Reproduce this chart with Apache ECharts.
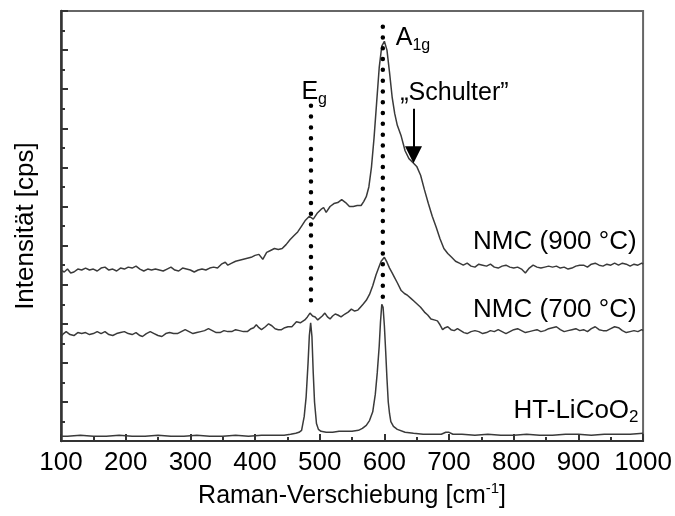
<!DOCTYPE html>
<html>
<head>
<meta charset="utf-8">
<script src="https://cdn.jsdelivr.net/npm/echarts@6/dist/echarts.min.js"></script>
<style>
  html, body { margin: 0; padding: 0; background: #fff; }
  #chart { width: 675px; height: 516px; }
</style>
</head>
<body>
<div id="chart"></div>
<script>
// Raman spectra, intensity in arbitrary counts (offset stacked)
const xTicks = [100, 200, 300, 400, 500, 600, 700, 800, 900, 1000];

const nmc900 = [
  [100,175],[105,173],[110,176],[115,172],[120,173],[126,176],[132,175],[138,177],[144,175],[150,176],
  [156,174],[162,177],[168,178],[174,175],[180,176],[186,174],[192,177],[198,176],[204,178],[210,177],
  [216,179],[222,176],[228,174],[234,176],[240,175],[246,176],[252,175],[258,174],[264,176],[270,178],
  [276,175],[282,174],[288,177],[294,176],[300,175],[306,173],[312,175],[318,176],[324,175],[330,177],
  [336,178],[342,177],[348,181],[354,183],[358,180],[364,182],[370,184],[376,185],[382,186],[388,187],
  [394,188],[400,190],[406,191],[412,186],[418,193],[424,195],[430,197],[436,196],[442,197],[448,201],
  [454,206],[460,210],[466,214],[472,220],[478,226],[484,230],[490,227],[496,233],[502,237],[506,239],
  [510,234],[516,240],[522,243],[528,244],[534,247],[540,244],[546,240],[552,240],[558,241],[564,241],
  [568,245],[572,250],[576,260],[580,280],[584,310],[588,346],[592,382],[596,404],[600,409],[604,400],
  [608,377],[612,352],[616,335],[620,323],[626,312],[632,297],[638,289],[644,285],[650,281],[656,272],
  [662,257],[668,243],[674,230],[680,219],[686,207],[692,197],[698,192],[704,188],[710,184],[716,182],
  [722,180],[728,182],[734,179],[740,178],[746,181],[752,180],[758,179],[764,181],[770,178],[776,177],
  [782,179],[788,180],[794,178],[800,177],[806,178],[812,176],[818,172],[824,177],[830,180],[836,178],
  [842,177],[848,178],[854,179],[860,178],[866,179],[872,177],[878,178],[884,176],[890,177],[896,179],
  [902,180],[908,180],[914,178],[920,181],[926,182],[932,180],[938,179],[944,181],[950,180],[956,182],
  [962,180],[968,182],[974,181],[980,179],[986,181],[992,180],[998,182],[1000,181]
];

const nmc700 = [
  [100,107],[104,110],[108,112],[114,109],[120,108],[126,111],[132,110],[138,111],[144,109],[150,110],
  [156,112],[162,110],[168,112],[174,109],[180,108],[186,110],[192,111],[198,112],[204,110],[210,109],
  [216,111],[222,108],[226,107],[232,110],[238,112],[244,110],[250,108],[256,107],[262,110],[268,111],
  [274,110],[280,110],[286,112],[292,114],[298,112],[304,110],[310,111],[316,112],[322,113],[328,115],
  [334,113],[340,111],[346,111],[352,113],[358,112],[364,112],[370,114],[376,113],[382,112],[388,112],
  [394,115],[398,116],[402,119],[406,116],[410,114],[416,117],[421,120],[426,118],[431,115],[436,114],
  [441,114],[446,116],[451,117],[457,117],[464,122],[470,121],[477,124],[481,127],[485,131],[489,128],
  [493,127],[497,124],[500,125],[504,128],[508,131],[512,127],[516,125],[520,128],[524,130],[528,129],
  [533,127],[539,130],[544,132],[549,135],[554,133],[559,134],[563,137],[567,140],[572,144],[577,150],
  [582,159],[587,170],[591,177],[595,184],[600,188],[604,183],[608,177],[612,172],[616,167],[620,162],
  [626,154],[631,151],[636,149],[641,146],[646,143],[651,140],[656,137],[662,132],[667,129],[672,125],
  [677,124],[682,123],[686,119],[690,114],[694,116],[698,117],[703,114],[708,113],[713,115],[718,113],
  [723,111],[728,110],[734,112],[740,113],[746,112],[752,110],[758,111],[764,113],[770,112],[776,114],
  [782,112],[788,110],[794,112],[800,114],[806,115],[812,113],[818,111],[824,112],[830,113],[836,114],
  [842,112],[848,113],[854,115],[860,116],[866,117],[872,114],[878,112],[884,113],[890,114],[896,115],
  [902,113],[908,114],[914,112],[920,115],[926,117],[932,114],[938,113],[944,113],[950,115],[956,117],
  [962,116],[968,113],[974,111],[980,112],[986,113],[992,112],[998,114],[1000,113]
];

const htLiCoO2 = [
  [100,5],[110,5],[130,6],[150,5],[170,5],[190,6],[210,5],[230,5],[250,6],[270,5],
  [290,5],[310,6],[330,5],[350,5],[370,6],[390,5],[410,6],[430,6],[445,6],[455,7],
  [463,8],[468,9],[472,11],[476,25],[479,45],[482,80],[484,108],[486,121],[488,107],[490,70],
  [492,40],[495,18],[498,12],[502,10],[510,9],[520,9],[530,10],[540,10],[550,10],[560,11],
  [566,13],[572,16],[577,21],[582,30],[586,48],[589,70],[592,97],[594,122],[596,140],[598,137],
  [600,118],[602,92],[604,64],[606,40],[608,28],[610,20],[614,15],[620,12],[632,9],[645,8],
  [660,7],[675,7],[688,7],[695,9],[700,9],[706,7],[720,7],[740,6],[760,7],[780,6],
  [800,6],[820,7],[840,6],[860,6],[880,7],[900,7],[920,6],[940,7],[960,7],[980,7],[1000,8]
];

// dotted guide lines at the Eg and A1g modes (top first so the dots start there)
const egLine = [[486.5, 343], [486.5, 134]];
const a1gLine = [[597.6, 424], [597.6, 147]];
// arrow marking the shoulder
const shoulderArrow = [[645, 340], [645, 293]];

const FONT = 'Liberation Sans, Arial, sans-serif';
const curveColor = '#3a3a3a';

const chart = echarts.init(document.getElementById('chart'));

const subRich = {
  m: { fontSize: 25, lineHeight: 30, color: '#000', fontFamily: FONT },
  s: { fontSize: 16, lineHeight: 18, verticalAlign: 'bottom', color: '#000', fontFamily: FONT }
};
const bigRich = {
  m: { fontSize: 26, lineHeight: 30, color: '#000', fontFamily: FONT },
  s: { fontSize: 17, lineHeight: 18, verticalAlign: 'bottom', color: '#000', fontFamily: FONT }
};

function textPoint(coord, text, rich, pos) {
  return {
    coord: coord,
    symbolSize: 0,
    label: {
      show: true,
      position: pos,
      distance: 0,
      formatter: text,
      rich: rich
    }
  };
}

function curve(name, data, labels) {
  return {
    name: name,
    type: 'line',
    data: data,
    showSymbol: false,
    smooth: false,
    lineStyle: { color: curveColor, width: 1.5 },
    silent: true,
    z: 3,
    markPoint: labels ? { symbol: 'circle', symbolSize: 0, data: labels, silent: true } : undefined
  };
}

const option = {
  backgroundColor: '#fff',
  animation: false,
  textStyle: { fontFamily: FONT },
  grid: {
    left: 61, right: 28, top: 11, bottom: 69,
    show: true, borderColor: '#666', borderWidth: 2
  },
  xAxis: {
    type: 'value',
    min: 100, max: 1000, interval: 100,
    name: 'Raman-Verschiebung [cm{sup|-1}]',
    nameLocation: 'middle',
    nameGap: 36,
    nameTextStyle: {
      fontSize: 25, color: '#000', fontFamily: FONT, lineHeight: 30,
      rich: { sup: { fontSize: 15, lineHeight: 16, verticalAlign: 'top', color: '#000', fontFamily: FONT } }
    },
    axisLine: { show: true, onZero: false, lineStyle: { color: '#333', width: 2 } },
    axisTick: { show: true, inside: true, length: 7, lineStyle: { color: '#333', width: 2 } },
    minorTick: { show: true, splitNumber: 2, length: 4, lineStyle: { color: '#333', width: 2 } },
    axisLabel: {
      fontSize: 26, color: '#000', margin: 9, fontFamily: FONT,
      formatter: v => (xTicks.indexOf(v) >= 0 ? String(v) : '')
    },
    splitLine: { show: false },
    minorSplitLine: { show: false }
  },
  yAxis: {
    type: 'value',
    min: 0, max: 440, interval: 40,
    name: 'Intensität [cps]',
    nameLocation: 'middle',
    nameGap: 22,
    nameTextStyle: { fontSize: 26, color: '#000', fontFamily: FONT },
    axisLine: { show: true, onZero: false, lineStyle: { color: '#333', width: 2.5 } },
    axisTick: { show: true, inside: true, length: 7, lineStyle: { color: '#333', width: 2 } },
    minorTick: { show: true, splitNumber: 2, length: 4, lineStyle: { color: '#333', width: 2 } },
    axisLabel: { show: false },
    splitLine: { show: false },
    minorSplitLine: { show: false }
  },
  series: [
    curve('NMC (900 °C)', nmc900, [
      textPoint([990, 204], '{m|NMC (900 °C)}', bigRich, 'left'),
      textPoint([471.7, 357], '{m|E}{s|g}', subRich, 'right'),
      textPoint([617.6, 412], '{m|A}{s|1g}', subRich, 'right'),
      textPoint([624.5, 356], '{m|„Schulter”}', subRich, 'right')
    ]),
    curve('NMC (700 °C)', nmc700, [
      textPoint([990, 134], '{m|NMC (700 °C)}', bigRich, 'left')
    ]),
    curve('HT-LiCoO2', htLiCoO2, [
      textPoint([993, 31], '{m|HT-LiCoO}{s|2}', bigRich, 'left')
    ]),
    {
      name: 'Eg', type: 'line', data: egLine, showSymbol: false, silent: true, z: 4,
      lineStyle: { color: '#000', width: 4.5, type: [0, 10.8], cap: 'round' }
    },
    {
      name: 'A1g', type: 'line', data: a1gLine, showSymbol: false, silent: true, z: 4,
      lineStyle: { color: '#000', width: 4.5, type: [0, 10.8], cap: 'round' }
    },
    {
      name: 'Schulter', type: 'line', data: [], silent: true,
      markLine: {
        silent: true,
        symbol: ['none', 'triangle'],
        symbolSize: [17, 17],
        label: { show: false },
        lineStyle: { color: '#000', width: 2, type: 'solid' },
        data: [[{ coord: shoulderArrow[0] }, { coord: shoulderArrow[1] }]]
      }
    }
  ]
};

chart.setOption(option);
</script>
</body>
</html>
